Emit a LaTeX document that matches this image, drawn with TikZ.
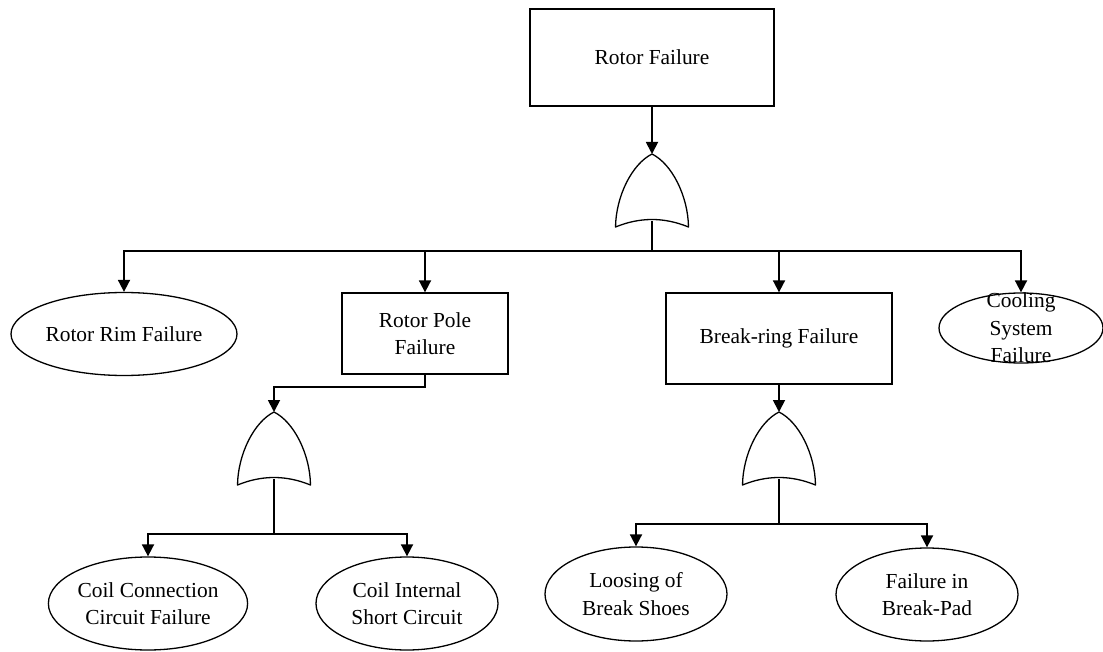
\documentclass[tikz,border=0pt]{standalone}
\usepackage{fontspec}
\setmainfont{Liberation Serif}
\usetikzlibrary{shapes.geometric,arrows.meta}

\tikzset{
  txt/.style={font=\fontsize{21.4}{27.5}\selectfont, align=center},
  gatebox/.style={draw, line width=1.3pt, rectangle, inner sep=0pt, txt},
  basic/.style={draw, line width=1.3pt, ellipse, inner sep=0pt, txt},
  conn/.style={line width=1.8pt},
  arr/.style={conn, -{Triangle[width=12pt,length=12pt]}},
  orgate/.pic={
    \draw[line width=1.3pt, line join=round]
      (0,0) .. controls (-20,10) and (-36,42) .. (-36.5,73)
            .. controls (-12,63) and (12,63) .. (36.5,73)
            .. controls (36,42) and (20,10) .. (0,0) -- cycle;
    \coordinate (-top) at (0,0);
    \coordinate (-out) at (0,67);
  }
}

\begin{document}
\begin{tikzpicture}[x=1pt, y=-1pt]
  \useasboundingbox (0,0) rectangle (1103,652);

  % top event and its OR gate
  \node[gatebox, minimum width=244, minimum height=97] (top) at (652,57.5) {Rotor Failure};
  \pic (g1) at (652,154) {orgate};
  \coordinate (b1) at (652,251);

  % first level events
  \node[basic, minimum width=226, minimum height=83] (rim) at (124,334) {Rotor Rim Failure};
  \node[gatebox, minimum width=166, minimum height=81] (pole) at (425,333.5) {Rotor Pole\\Failure};
  \node[gatebox, minimum width=226, minimum height=91] (brk) at (779,338.5) {Break-ring Failure};
  \node[draw, line width=1.3pt, ellipse, minimum width=164, minimum height=70,
        label={[txt]center:Cooling\\System\\Failure}] (cool) at (1021,328) {};

  % gates under the intermediate events
  \pic (g2) at (274,412) {orgate};
  \coordinate (b2) at (274,534);
  \pic (g3) at (779,412) {orgate};
  \coordinate (b3) at (779,524);

  % basic events
  \node[basic, minimum width=178, minimum height=93] (coilc) at (148,603.5) {Coil Connection\\Circuit Failure};
  \node[basic, minimum width=182, minimum height=93] (coili) at (407,603.5) {Coil Internal\\Short Circuit};
  \node[basic, minimum width=182, minimum height=94] (loos) at (636,594) {Loosing of\\Break Shoes};
  \node[basic, minimum width=182, minimum height=93] (pad) at (927,594.5) {Failure in\\Break-Pad};

  % connectors
  \draw[arr] (top.south) -- (g1-top);
  \draw[conn] (g1-out) -- (b1);
  \draw[arr] (b1) -| (rim.north);
  \draw[arr] (b1) -| (pole.north);
  \draw[arr] (b1) -| (brk.north);
  \draw[arr] (b1) -| (cool.north);

  \draw[arr] (pole.south) -- ++(0,12) -| (g2-top);
  \draw[conn] (g2-out) -- (b2);
  \draw[arr] (b2) -| (coilc.north);
  \draw[arr] (b2) -| (coili.north);

  \draw[arr] (brk.south) -- (g3-top);
  \draw[conn] (g3-out) -- (b3);
  \draw[arr] (b3) -| (loos.north);
  \draw[arr] (b3) -| (pad.north);
\end{tikzpicture}
\end{document}
